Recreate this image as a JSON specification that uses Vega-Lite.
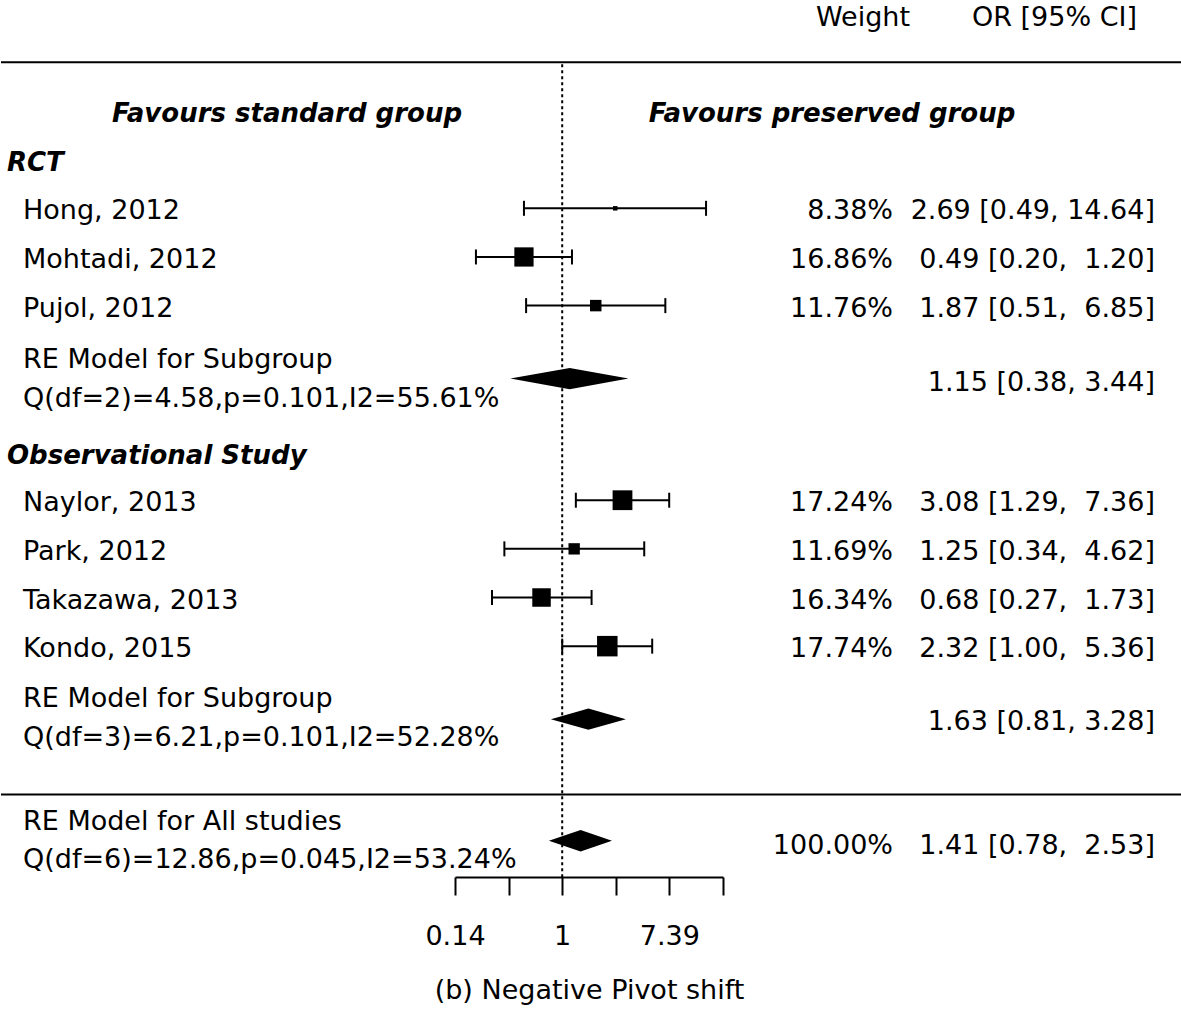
{
  "$schema": "https://vega.github.io/schema/vega-lite/v6.json",
  "width": 1181,
  "height": 877,
  "autosize": {"type": "pad"},
  "padding": {"left": 0, "top": 0, "right": 0, "bottom": 14},
  "background": "white",
  "config": {
    "view": {"stroke": null},
    "text": {"font": "DejaVu Sans", "fontSize": 27, "color": "black", "baseline": "middle"}
  },
  "datasets": {
    "studies": [
      {"study": "Hong, 2012", "r": 2, "or": 2.69, "lo": 0.49, "hi": 14.64, "w": 8.38},
      {"study": "Mohtadi, 2012", "r": 3, "or": 0.49, "lo": 0.20, "hi": 1.20, "w": 16.86},
      {"study": "Pujol, 2012", "r": 4, "or": 1.87, "lo": 0.51, "hi": 6.85, "w": 11.76},
      {"study": "Naylor, 2013", "r": 8, "or": 3.08, "lo": 1.29, "hi": 7.36, "w": 17.24},
      {"study": "Park, 2012", "r": 9, "or": 1.25, "lo": 0.34, "hi": 4.62, "w": 11.69},
      {"study": "Takazawa, 2013", "r": 10, "or": 0.68, "lo": 0.27, "hi": 1.73, "w": 16.34},
      {"study": "Kondo, 2015", "r": 11, "or": 2.32, "lo": 1.00, "hi": 5.36, "w": 17.74}
    ],
    "pooled": [
      {"model": "RCT", "or": 0.38, "top": 5.5, "bot": 5.5},
      {"model": "RCT", "or": 1.15, "top": 5.28, "bot": 5.72},
      {"model": "RCT", "or": 3.44, "top": 5.5, "bot": 5.5},
      {"model": "Obs", "or": 0.81, "top": 12.5, "bot": 12.5},
      {"model": "Obs", "or": 1.63, "top": 12.28, "bot": 12.72},
      {"model": "Obs", "or": 3.28, "top": 12.5, "bot": 12.5},
      {"model": "All", "or": 0.78, "top": 15.0, "bot": 15.0},
      {"model": "All", "or": 1.41, "top": 14.78, "bot": 15.22},
      {"model": "All", "or": 2.53, "top": 15.0, "bot": 15.0}
    ],
    "hlines": [{"r": -1}, {"r": 14.05}],
    "refline": [{"or": 1}],
    "texts": [
      {"col": "hW", "r": -1.98, "t": "Weight"},
      {"col": "hCI", "r": -1.98, "t": "OR [95% CI]"},
      {"col": "favL", "r": 0, "t": "Favours standard group"},
      {"col": "favR", "r": 0, "t": "Favours preserved group"},
      {"col": "group", "r": 1, "t": "RCT"},
      {"col": "group", "r": 7.03, "t": "Observational Study"},
      {"col": "label", "r": 2, "t": "Hong, 2012"},
      {"col": "label", "r": 3, "t": "Mohtadi, 2012"},
      {"col": "label", "r": 4, "t": "Pujol, 2012"},
      {"col": "label", "r": 5.06, "t": "RE Model for Subgroup"},
      {"col": "label", "r": 5.86, "t": "Q(df=2)=4.58,p=0.101,I2=55.61%"},
      {"col": "label", "r": 8, "t": "Naylor, 2013"},
      {"col": "label", "r": 9, "t": "Park, 2012"},
      {"col": "label", "r": 10, "t": "Takazawa, 2013"},
      {"col": "label", "r": 11, "t": "Kondo, 2015"},
      {"col": "label", "r": 12.03, "t": "RE Model for Subgroup"},
      {"col": "label", "r": 12.83, "t": "Q(df=3)=6.21,p=0.101,I2=52.28%"},
      {"col": "label", "r": 14.55, "t": "RE Model for All studies"},
      {"col": "label", "r": 15.33, "t": "Q(df=6)=12.86,p=0.045,I2=53.24%"},
      {"col": "weight", "r": 2, "t": "8.38%"},
      {"col": "weight", "r": 3, "t": "16.86%"},
      {"col": "weight", "r": 4, "t": "11.76%"},
      {"col": "weight", "r": 8, "t": "17.24%"},
      {"col": "weight", "r": 9, "t": "11.69%"},
      {"col": "weight", "r": 10, "t": "16.34%"},
      {"col": "weight", "r": 11, "t": "17.74%"},
      {"col": "weight", "r": 15.05, "t": "100.00%"},
      {"col": "ci", "r": 2, "t": "2.69 [0.49, 14.64]"},
      {"col": "ci", "r": 3, "t": "0.49 [0.20,\u00a0 1.20]"},
      {"col": "ci", "r": 4, "t": "1.87 [0.51,\u00a0 6.85]"},
      {"col": "ci", "r": 5.53, "t": "1.15 [0.38, 3.44]"},
      {"col": "ci", "r": 8, "t": "3.08 [1.29,\u00a0 7.36]"},
      {"col": "ci", "r": 9, "t": "1.25 [0.34,\u00a0 4.62]"},
      {"col": "ci", "r": 10, "t": "0.68 [0.27,\u00a0 1.73]"},
      {"col": "ci", "r": 11, "t": "2.32 [1.00,\u00a0 5.36]"},
      {"col": "ci", "r": 12.5, "t": "1.63 [0.81, 3.28]"},
      {"col": "ci", "r": 15.05, "t": "1.41 [0.78,\u00a0 2.53]"}
    ]
  },
  "layer": [
    {
      "data": {"name": "studies"},
      "mark": {"type": "rule", "color": "black", "strokeWidth": 2},
      "encoding": {
        "x": {
          "field": "lo", "type": "quantitative",
          "scale": {"type": "log", "domain": [0.1353353, 20.0855369], "range": [454, 722], "nice": false},
          "axis": {
            "title": "(b) Negative Pivot shift",
            "values": [0.1353353, 0.3678794, 1, 2.7182818, 7.3890561, 20.0855369],
            "labelExpr": "datum.value < 0.2 ? '0.14' : (datum.value == 1 ? '1' : (datum.value > 7 && datum.value < 8 ? '7.39' : ''))",
            "grid": false,
            "domainColor": "black", "domainWidth": 2,
            "tickColor": "black", "tickWidth": 2, "tickSize": 18,
            "labelFont": "DejaVu Sans", "labelFontSize": 27, "labelColor": "black",
            "labelPadding": 28, "labelFlush": false, "labelOverlap": false, "labelBound": false,
            "titleFont": "DejaVu Sans", "titleFontSize": 27, "titleFontWeight": "normal", "titleColor": "black",
            "titlePadding": 28
          }
        },
        "x2": {"field": "hi"},
        "y": {"field": "r", "type": "quantitative", "scale": {"domain": [-2.282, 15.745], "reverse": true, "nice": false, "zero": false}, "axis": null}
      }
    },
    {
      "data": {"name": "hlines"},
      "mark": {"type": "rule", "color": "black", "strokeWidth": 2},
      "encoding": {
        "y": {"field": "r", "type": "quantitative"}
      }
    },
    {
      "data": {"name": "refline"},
      "mark": {"type": "rule", "color": "black", "strokeWidth": 2, "strokeDash": [3, 3]},
      "encoding": {
        "x": {"field": "or", "type": "quantitative"},
        "y": {"datum": -0.96, "type": "quantitative"},
        "y2": {"datum": 15.745}
      }
    },
    {
      "data": {"name": "studies"},
      "mark": {"type": "tick", "orient": "vertical", "color": "black", "size": 15, "thickness": 2, "opacity": 1},
      "encoding": {
        "x": {"field": "lo", "type": "quantitative"},
        "y": {"field": "r", "type": "quantitative"}
      }
    },
    {
      "data": {"name": "studies"},
      "mark": {"type": "tick", "orient": "vertical", "color": "black", "size": 15, "thickness": 2, "opacity": 1},
      "encoding": {
        "x": {"field": "hi", "type": "quantitative"},
        "y": {"field": "r", "type": "quantitative"}
      }
    },
    {
      "data": {"name": "studies"},
      "mark": {"type": "point", "shape": "square", "filled": true, "color": "black", "opacity": 1, "strokeWidth": 0},
      "encoding": {
        "x": {"field": "or", "type": "quantitative"},
        "y": {"field": "r", "type": "quantitative"},
        "size": {"field": "w", "type": "quantitative", "scale": {"type": "pow", "exponent": 2, "domain": [8.38, 17.74], "range": [20, 420]}, "legend": null}
      }
    },
    {
      "data": {"name": "pooled"},
      "mark": {"type": "area", "color": "black", "opacity": 1, "strokeWidth": 0},
      "encoding": {
        "x": {"field": "or", "type": "quantitative"},
        "y": {"field": "top", "type": "quantitative"},
        "y2": {"field": "bot"},
        "detail": {"field": "model"}
      }
    },
    {
      "data": {"name": "texts"},
      "transform": [{"filter": {"field": "col", "equal": "label"}}],
      "mark": {"type": "text", "align": "left", "x": 22, "dy": 3},
      "encoding": {
        "y": {"field": "r", "type": "quantitative"},
        "text": {"field": "t"}
      }
    },
    {
      "data": {"name": "texts"},
      "transform": [{"filter": {"field": "col", "equal": "group"}}],
      "mark": {"type": "text", "align": "left", "x": 6, "dy": 3, "fontSize": 26, "fontWeight": "bold", "fontStyle": "italic"},
      "encoding": {
        "y": {"field": "r", "type": "quantitative"},
        "text": {"field": "t"}
      }
    },
    {
      "data": {"name": "texts"},
      "transform": [{"filter": {"field": "col", "equal": "favL"}}],
      "mark": {"type": "text", "align": "center", "x": 286, "dy": 3, "fontSize": 26, "fontWeight": "bold", "fontStyle": "italic"},
      "encoding": {
        "y": {"field": "r", "type": "quantitative"},
        "text": {"field": "t"}
      }
    },
    {
      "data": {"name": "texts"},
      "transform": [{"filter": {"field": "col", "equal": "favR"}}],
      "mark": {"type": "text", "align": "center", "x": 831, "dy": 3, "fontSize": 26, "fontWeight": "bold", "fontStyle": "italic"},
      "encoding": {
        "y": {"field": "r", "type": "quantitative"},
        "text": {"field": "t"}
      }
    },
    {
      "data": {"name": "texts"},
      "transform": [{"filter": {"field": "col", "equal": "weight"}}],
      "mark": {"type": "text", "align": "right", "x": 892, "dy": 3},
      "encoding": {
        "y": {"field": "r", "type": "quantitative"},
        "text": {"field": "t"}
      }
    },
    {
      "data": {"name": "texts"},
      "transform": [{"filter": {"field": "col", "equal": "ci"}}],
      "mark": {"type": "text", "align": "right", "x": 1154, "dy": 3},
      "encoding": {
        "y": {"field": "r", "type": "quantitative"},
        "text": {"field": "t"}
      }
    },
    {
      "data": {"name": "texts"},
      "transform": [{"filter": {"field": "col", "equal": "hW"}}],
      "mark": {"type": "text", "align": "right", "x": 909, "dy": 3},
      "encoding": {
        "y": {"field": "r", "type": "quantitative"},
        "text": {"field": "t"}
      }
    },
    {
      "data": {"name": "texts"},
      "transform": [{"filter": {"field": "col", "equal": "hCI"}}],
      "mark": {"type": "text", "align": "right", "x": 1136, "dy": 3},
      "encoding": {
        "y": {"field": "r", "type": "quantitative"},
        "text": {"field": "t"}
      }
    }
  ]
}
